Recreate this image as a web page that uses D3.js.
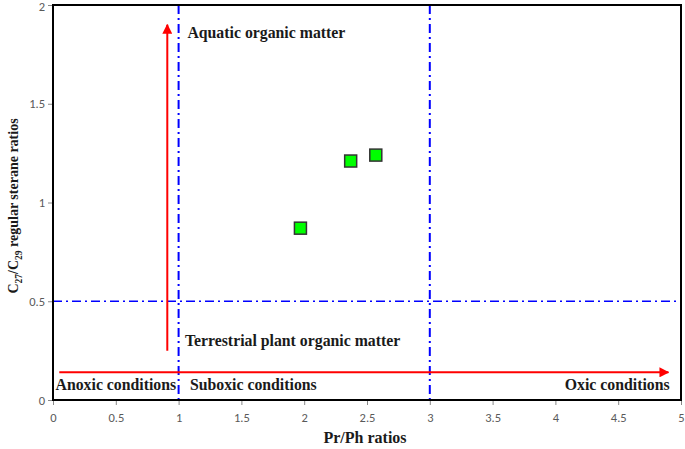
<!DOCTYPE html>
<html><head><meta charset="utf-8">
<script src="https://cdn.jsdelivr.net/npm/d3@7"></script>
<style>body{margin:0;background:#fff}svg{display:block}</style>
</head><body>
<svg id="c" width="685" height="449"></svg>
<script>
const xTicks = [0,0.5,1,1.5,2,2.5,3,3.5,4,4.5,5];
const yTicks = [0,0.5,1,1.5,2];
const prPh = [1.97, 2.37, 2.57];
const steraneRatio = [0.87, 1.21, 1.24];
const vLines = [1, 3];
const hLines = [0.5];
const labels = [
  {text:"Aquatic organic matter", x:1.07, y:1.85, anchor:"start"},
  {text:"Terrestrial plant organic matter", x:1.05, y:0.29, anchor:"start"},
  {text:"Anoxic conditions", x:0.02, y:0.07, anchor:"start"},
  {text:"Suboxic conditions", x:1.09, y:0.07, anchor:"start"},
  {text:"Oxic conditions", x:4.91, y:0.07, anchor:"end"}
];
const vArrow = {x:0.91, y0:0.25, y1:1.9};
const hArrow = {y:0.14, x0:0.05, x1:4.9};

const svg = d3.select("#c");
const L=53, R=681, T=5, B=400;
const x = d3.scaleLinear().domain([0,5]).range([L,R]);
const y = d3.scaleLinear().domain([0,2]).range([B,T]);

svg.append("defs").append("marker").attr("id","ah").attr("viewBox","0 0 10 10")
  .attr("refX",9).attr("refY",5).attr("markerWidth",5).attr("markerHeight",5)
  .attr("orient","auto").attr("markerUnits","strokeWidth")
  .append("path").attr("d","M0,0L10,5L0,10z").attr("fill","#ff0000");

// axes
const xa = svg.append("g").attr("transform",`translate(0,${B})`)
  .call(d3.axisBottom(x).tickValues(xTicks).tickFormat(d3.format("")).tickSize(5).tickSizeOuter(0));
const ya = svg.append("g").attr("transform",`translate(${L},0)`)
  .call(d3.axisLeft(y).tickValues(yTicks).tickFormat(d3.format("")).tickSize(5).tickSizeOuter(0));
[xa,ya].forEach(a=>{
  a.select(".domain").remove();
  a.selectAll(".tick line").attr("stroke","#888");
  a.selectAll(".tick text").attr("fill","#595959").attr("font-family","Carlito, 'Open Sans', sans-serif").attr("font-size",12.5);
});
xa.selectAll(".tick text").attr("dy","1.1em");
ya.selectAll(".tick text").attr("dy",(d)=> d===2 ? "0.45em" : "0.32em");

// guide lines
vLines.forEach(v=>svg.append("line").attr("x1",x(v)).attr("x2",x(v)).attr("y1",T).attr("y2",B)
  .attr("stroke","#0000ff").attr("stroke-width",2).attr("stroke-dasharray","9,4,2,4"));
hLines.forEach(h=>svg.append("line").attr("x1",L).attr("x2",R).attr("y1",y(h)).attr("y2",y(h))
  .attr("stroke","#0000ff").attr("stroke-width",1.5).attr("stroke-dasharray","9,4,2,4"));

// arrows
svg.append("line").attr("x1",x(vArrow.x)).attr("x2",x(vArrow.x)).attr("y1",y(vArrow.y0)).attr("y2",y(vArrow.y1))
  .attr("stroke","#ff0000").attr("stroke-width",2).attr("marker-end","url(#ah)");
svg.append("line").attr("x1",x(hArrow.x0)).attr("x2",x(hArrow.x1)).attr("y1",y(hArrow.y)).attr("y2",y(hArrow.y))
  .attr("stroke","#ff0000").attr("stroke-width",2).attr("marker-end","url(#ah)");

// labels
svg.selectAll(".lab").data(labels).enter().append("text")
  .attr("x",d=>x(d.x)).attr("y",d=>y(d.y)).attr("text-anchor",d=>d.anchor)
  .attr("dominant-baseline","middle")
  .attr("font-family","'Liberation Serif','Times New Roman',serif").attr("font-weight","bold").attr("font-size",15.8)
  .attr("fill","#1a1a1a").text(d=>d.text);

// points
const s=12;
svg.selectAll(".pt").data(prPh).enter().append("rect")
  .attr("x",(d,i)=>x(d)-s/2).attr("y",(d,i)=>y(steraneRatio[i])-s/2)
  .attr("width",s).attr("height",s).attr("fill","#00ff00").attr("stroke","#333").attr("stroke-width",1.5);

// frame
svg.append("rect").attr("x",L).attr("y",T).attr("width",R-L).attr("height",B-T)
  .attr("fill","none").attr("stroke","#000").attr("stroke-width",2);

// axis titles
svg.append("text").attr("x",365).attr("y",443).attr("text-anchor","middle")
  .attr("font-family","'Liberation Serif','Times New Roman',serif").attr("font-weight","bold").attr("font-size",16)
  .attr("fill","#1a1a1a").text("Pr/Ph ratios");
const yt = svg.append("text").attr("transform",`translate(18,206) rotate(-90)`).attr("text-anchor","middle")
  .attr("font-family","'Liberation Serif','Times New Roman',serif").attr("font-weight","bold").attr("font-size",14)
  .attr("fill","#1a1a1a");
yt.append("tspan").text("C");
yt.append("tspan").attr("font-size",9.5).attr("dy",4).text("27");
yt.append("tspan").attr("dy",-4).text("/C");
yt.append("tspan").attr("font-size",9.5).attr("dy",4).text("29");
yt.append("tspan").attr("dy",-4).text(" regular sterane ratios");
</script>
</body></html>
